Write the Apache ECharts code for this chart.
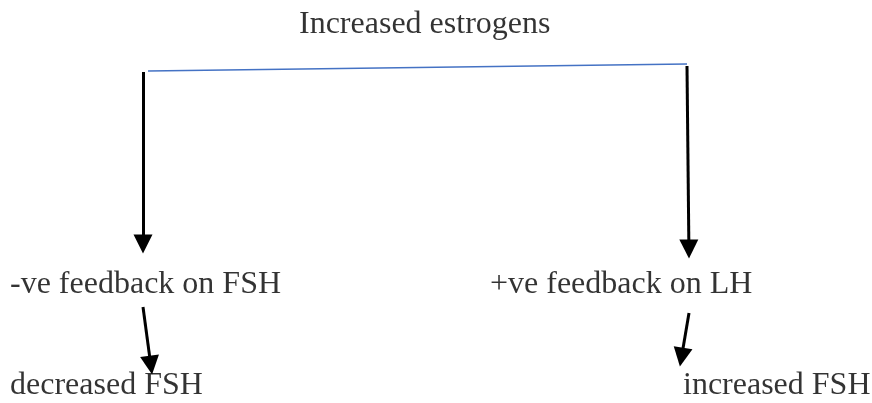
<!DOCTYPE html>
<html>
<head>
<meta charset="utf-8">
<script src="https://cdn.jsdelivr.net/npm/echarts@6/dist/echarts.min.js"></script>
<style>html,body{margin:0;padding:0;background:#fff}#c{width:872px;height:403px}</style>
</head>
<body>
<div id="c"></div>
<script>
// Diagram content: labels and their anchor (left x, baseline y) in diagram units
const labels = ["Increased estrogens", "-ve feedback on FSH", "+ve feedback on LH", "decreased FSH", "increased FSH"];
const labelX = [299, 10, 490, 10, 683];
const labelBaseline = [35, 295, 295, 396, 396];
// Connector (blue) line endpoints
const connector = [[148, 71], [687, 64]];
// Arrows: start and tip
const arrowStart = [[143, 72], [687, 66], [143, 307], [689, 313]];
const arrowTip = [[143, 253], [689, 258], [152, 374], [680, 366]];

const FS = 32;
const chart = echarts.init(document.getElementById('c'), null, {renderer: 'canvas'});

const textData = labels.map((t, i) => ({
  value: [labelX[i], labelBaseline[i] - FS * 0.33],
  name: t
}));

const arrowData = arrowStart.map((s, i) => {
  const t = arrowTip[i];
  const dx = t[0] - s[0], dy = t[1] - s[1];
  const len = Math.sqrt(dx * dx + dy * dy);
  const back = 9;
  return {coords: [s, [t[0] - dx / len * back, t[1] - dy / len * back]]};
});

chart.setOption({
  animation: false,
  grid: {left: 0, right: 0, top: 0, bottom: 0},
  xAxis: {type: 'value', min: 0, max: 872, show: false},
  yAxis: {type: 'value', min: 0, max: 403, inverse: true, show: false},
  series: [
    {
      type: 'lines',
      coordinateSystem: 'cartesian2d',
      symbol: ['none', 'none'],
      lineStyle: {color: '#4472C4', width: 1.5, opacity: 1},
      data: [{coords: connector}]
    },
    {
      type: 'lines',
      coordinateSystem: 'cartesian2d',
      symbol: ['none', 'triangle'],
      symbolSize: [17, 19],
      lineStyle: {color: '#000', width: 3, opacity: 1},
      itemStyle: {color: '#000'},
      data: arrowData
    },
    {
      type: 'scatter',
      symbolSize: 0,
      silent: true,
      data: textData,
      label: {
        show: true,
        position: [0, 0],
        align: 'left',
        verticalAlign: 'middle',
        formatter: p => p.name,
        fontFamily: '"Liberation Serif", "Times New Roman", serif',
        fontSize: FS,
        color: '#000000',
        textBorderWidth: 0
      }
    }
  ]
});
</script>
</body>
</html>
